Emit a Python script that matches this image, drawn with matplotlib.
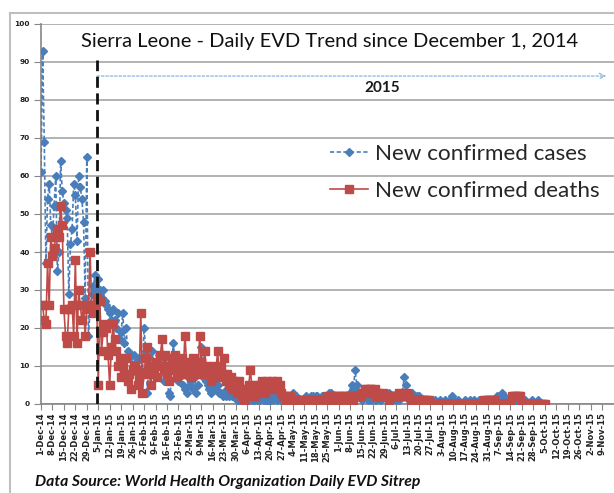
import matplotlib
matplotlib.use('Agg')
import matplotlib.pyplot as plt
from matplotlib.lines import Line2D
import pandas as pd

# ---------------- data (daily, starting 1-Dec-2014) ----------------
start_date = '2014-12-01'

new_cases = [
    61, 93, 69, 37, 54, 58, 47,
    44, 52, 60, 35, 40, 64, 56,
    53, 51, 49, 29, 42, 46, 58,
    55, 43, 60, 57, 54, 48, 28,
    65, 18, 25, 29, 31, 34, 30,
    33, 30, 28, 30, 27, 26, 25,
    24, 22, 25, 22, 20, 24, 17,
    19, 24, 16, 20, 14, 12, 13,
    10, 13, 11, 8, 12, 9, 8,
    20, 14, 3, 12, 10, 14, 9,
    11, 7, 13, 12, 10, 6, 12,
    8, 3, 2, 12, 16, 9, 11,
    6, 8, 9, 5, 4, 3, 7,
    5, 6, 4, 7, 3, 5, 9,
    15, 7, 10, 6, 5, 4, 3,
    5, 6, 4, 5, 3, 3, 2,
    3, 2, 4, 2, 3, 2, 2,
    2, 1, 2, 1, 0, 2, 1,
    2, 1, 3, 1, 1, 2, 1,
    2, 1, 3, 2, 1, 0, 2,
    1, 2, 1, 3, 1, 2, 1,
    2, 1, 1, 2, 1, 2, 1,
    3, 1, 2, 1, 1, 0, 1,
    1, 2, 1, 1, 2, 2, 1,
    2, 2, 1, 1, 2, 1, 1,
    2, 3, 3, 1, 2, 1, 2,
    1, 2, 1, 2, 2, 1, 2,
    3, 5, 4, 9, 5, 3, 2,
    1, 2, 3, 2, 1, 2, 1,
    2, 1, 1, 2, 1, 1, 2,
    2, 3, 2, 3, 1, 1, 2,
    1, 2, 1, 2, 3, 7, 5,
    2, 1, 2, 3, 1, 1, 2,
    2, 1, 1, 0, 1, 1, 0,
    0, 1, 0, 1, 0, 0, 1,
    0, 0, 1, 0, 0, 1, 2,
    1, 0, 0, 1, 0, 0, 0,
    1, 0, 0, 1, 0, 0, 1,
    0, 0, 1, 0, 1, 1, 0,
    1, 0, 1, 0, 0, 1, 2,
    1, 2, 3, 2, 1, 0, 1,
    1, 2, 1, 2, 1, 0, 1,
    0, 0, 1, 0, 0, 0, 1,
    0, 0, 0, 1, 0, 0, 0,
    0,
]

new_deaths = [
    26, 26, 22, 21, 37, 26, 44,
    39, 41, 44, 46, 44, 52, 47,
    25, 18, 16, 25, 25, 26, 18,
    38, 16, 30, 26, 22, 26, 18,
    26, 25, 40, 26, 24, 26, 28,
    5, 27, 14, 19, 21, 20, 13,
    5, 15, 21, 17, 14, 10, 12,
    7, 10, 8, 12, 6, 8, 4,
    9, 10, 9, 5, 7, 24, 3,
    8, 12, 15, 10, 5, 8, 9,
    11, 7, 10, 13, 17, 9, 13,
    8, 6, 10, 12, 9, 13, 7,
    10, 8, 12, 9, 18, 11, 8,
    10, 7, 12, 9, 10, 8, 18,
    11, 9, 14, 10, 8, 9, 6,
    10, 7, 9, 14, 7, 10, 8,
    12, 6, 8, 5, 7, 4, 6,
    5, 3, 6, 4, 2, 1, 4,
    3, 5, 9, 4, 2, 5, 3,
    5, 4, 6, 5, 3, 6, 4,
    5, 6, 4, 5, 6, 4, 5,
    3, 2, 2, 1, 2, 2, 1,
    1, 0, 1, 1, 0, 1, 1,
    1, 0, 1, 1, 1, 0, 1,
    1, 1, 0, 1, 1, 1, 1,
    2, 1, 2, 2, 1, 2, 2,
    2, 1, 2, 2, 2, 1, 2,
    2, 2, 1, 2, 2, 2, 2,
    3, 3, 4, 4, 3, 4, 4,
    3, 4, 2, 3, 2, 2, 3,
    2, 2, 2, 1, 2, 2, 2,
    2, 2, 3, 2, 2, 3, 2,
    3, 2, 1, 1, 1, 1, 1,
    1, 1, 1, 1, 1, 1, 1,
    0, 0, 0, 0, 0, 0, 0,
    0, 0, 0, 0, 0, 0, 0,
    0, 0, 0, 0, 0, 0, 0,
    0, 0, 0, 0, 0, 0, 0,
    0, 0, 0, 0, 0, 1, 1,
    1, 1, 1, 1, 1, 0, 0,
    0, 0, 0, 0, 0, 0, 0,
    0, 2, 2, 2, 2, 2, 2,
    0, 0, 0, 0, 0, 0, 0,
    0, 0, 0, 0, 0, 0, 0,
    0,
]

tick_labels = [
    '1-Dec-14', '8-Dec-14', '15-Dec-14', '22-Dec-14', '29-Dec-14',
    '5-Jan-15', '12-Jan-15', '19-Jan-15', '26-Jan-15', '2-Feb-15',
    '9-Feb-15', '16-Feb-15', '23-Feb-15', '2-Mar-15', '9-Mar-15',
    '16-Mar-15', '23-Mar-15', '30-Mar-15', '6-Apr-15', '13-Apr-15',
    '20-Apr-15', '27-Apr-15', '4-May-15', '11-May-15', '18-May-15',
    '25-May-15', '1-Jun-15', '8-Jun-15', '15-Jun-15', '22-Jun-15',
    '29-Jun-15', '6-Jul-15', '13-Jul-15', '20-Jul-15', '27-Jul-15',
    '3-Aug-15', '10-Aug-15', '17-Aug-15', '24-Aug-15', '31-Aug-15',
    '7-Sep-15', '14-Sep-15', '21-Sep-15', '28-Sep-15', '5-Oct-15',
    '12-Oct-15', '19-Oct-15', '26-Oct-15', '2-Nov-15', '9-Nov-15',
]
y_ticks = [0, 10, 20, 30, 40, 50, 60, 70, 80, 90, 100]

title_text = 'Sierra Leone - Daily EVD Trend since December 1, 2014'
year_text = '2015'
source_text = 'Data Source: World Health Organization Daily EVD Sitrep'
series_names = ['New confirmed cases', 'New confirmed deaths']

# ---------------- figure ----------------
W, H = 614, 493
fig = plt.figure(figsize=(W / 100, H / 100), dpi=100)
fig.patch.set_facecolor('white')


def fx(px):
    return px / W


def fy(py):
    return 1 - py / H


ax = fig.add_axes([fx(41), fy(404), fx(614) - fx(41), fy(24) - fy(404)])

dates = pd.date_range(start_date, periods=len(new_cases), freq='D')
t0 = pd.Timestamp(start_date)

blue = '#4a7ebb'
red = '#be4b48'

l1, = ax.plot(dates, new_cases, color=blue, lw=1.2, ls=(0, (2.5, 1.5)),
              marker='D', ms=3.6, mfc=blue, mec=blue, zorder=3)
l2, = ax.plot(dates, new_deaths, color=red, lw=1.2, ls='-',
              marker='s', ms=5.8, mfc=red, mec=red, zorder=4)

ax.set_xlim(t0, t0 + pd.Timedelta(days=350.3))
ax.set_ylim(0, 100)

ticks = pd.to_datetime(tick_labels, format='%d-%b-%y')
ax.set_xticks(ticks)
ax.set_xticklabels(tick_labels, rotation=90, fontsize=6, color='#222222',
                   fontweight='bold', family='DejaVu Sans')
ax.set_yticks(y_ticks)
ax.set_yticklabels([str(v) for v in y_ticks], fontsize=5.3, color='#222222',
                   fontweight='bold')
ax.tick_params(axis='x', length=4, width=0.8, color='#868686', pad=2)
ax.tick_params(axis='y', length=5, width=0.8, color='#868686', pad=3)

ax.grid(axis='y', color='#a6a6a6', lw=1.2)
ax.set_axisbelow(True)
for s in ['top', 'right']:
    ax.spines[s].set_visible(False)
for s in ['left', 'bottom']:
    ax.spines[s].set_color('#868686')
    ax.spines[s].set_linewidth(1.2)

# start-of-2015 marker
x2015 = t0 + pd.Timedelta(days=34.3)
ax.plot([x2015, x2015], [0, 90.5], color='#111111', lw=2.0,
        ls=(0, (4, 2)), zorder=5)
ax.annotate('', xy=(t0 + pd.Timedelta(days=345.5), 86.3),
            xytext=(x2015, 86.3),
            arrowprops=dict(arrowstyle='->', color='#8db3e2', lw=0.9,
                            ls=(0, (2, 1.5)), shrinkA=0, shrinkB=0))

fig.text(fx(382), fy(88), year_text, ha='center', va='center',
         fontsize=11, fontweight='bold', color='#1a1a1a', family='Lato')

fig.text(fx(330), fy(42), title_text, ha='center', va='center',
         fontsize=14.5, color='#111111', family='Lato')

leg = ax.legend([l1, l2], series_names, loc='upper left',
                bbox_to_anchor=(fx(330), fy(144)), bbox_transform=fig.transFigure,
                frameon=False, handlelength=1.7,
                handletextpad=0.3, labelspacing=0.76, borderpad=0,
                borderaxespad=0, prop={'family': 'Lato', 'size': 16.2})
for t in leg.get_texts():
    t.set_color('#262626')

fig.text(fx(35), fy(482), source_text, ha='left', va='center',
         fontsize=11.3, fontweight='bold', fontstyle='italic', color='#111111',
         family='Lato')

# chart frame
fig.add_artist(Line2D([fx(10), fx(10)], [fy(13), 0], transform=fig.transFigure,
                      color='#bfbfbf', lw=1.5))
fig.add_artist(Line2D([fx(10), 1], [fy(13), fy(13)], transform=fig.transFigure,
                      color='#bfbfbf', lw=1.5))

fig.savefig('out.png', dpi=100, facecolor='white')
